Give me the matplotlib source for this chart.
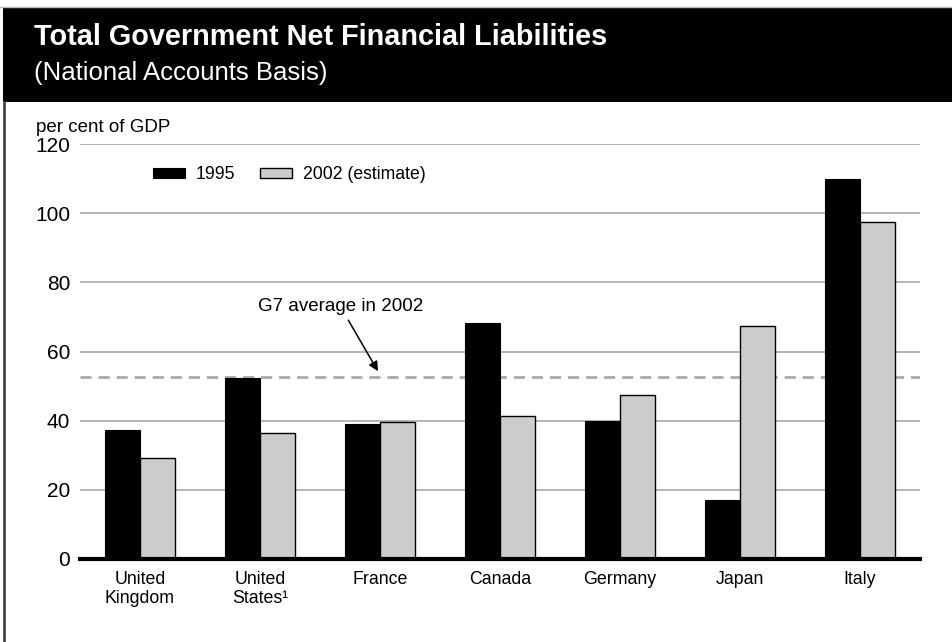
import matplotlib
matplotlib.use("Agg")
import matplotlib.pyplot as plt
import numpy as np
from matplotlib.patches import Rectangle
from matplotlib.lines import Line2D

plt.rcParams['font.family'] = ['Liberation Sans', 'DejaVu Sans']

countries = ["United\nKingdom", "United\nStates\u00b9", "France", "Canada", "Germany", "Japan", "Italy"]
vals_1995 = [37.2, 52.2, 39.1, 68.2, 39.9, 17.2, 110.0]
vals_2002 = [29.3, 36.4, 39.6, 41.3, 47.3, 67.4, 97.5]
series_labels = ["1995", "2002 (estimate)"]
g7_avg_2002 = 52.5
yticks = [0, 20, 40, 60, 80, 100, 120]

W, H = 952, 642
fig = plt.figure(figsize=(W / 100, H / 100), dpi=100)
fig.patch.set_facecolor("white")

# header band
fig.add_artist(Rectangle((3 / W, 1 - 102 / H), (W - 3) / W, 94 / H,
                         transform=fig.transFigure, facecolor="black",
                         edgecolor="none", zorder=0))
fig.add_artist(Line2D([0, 1], [1 - 7 / H, 1 - 7 / H], transform=fig.transFigure,
                      color="#bbbbbb", lw=1))
# left border line
fig.add_artist(Line2D([4 / W, 4 / W], [0, 1 - 102 / H], transform=fig.transFigure,
                      color="#444444", lw=2))

fig.text(34 / W, 1 - 45 / H, "Total Government Net Financial Liabilities",
         color="white", fontsize=20.8, fontweight="bold", va="baseline", ha="left")
fig.text(34 / W, 1 - 80 / H, "(National Accounts Basis)",
         color="white", fontsize=18.5, va="baseline", ha="left")

ax = fig.add_axes([80 / W, 1 - 559 / H, 840 / W, 415 / H])
x = np.arange(len(countries))
bw = 0.29
ax.bar(x - bw / 2, vals_1995, width=bw, color="black", edgecolor="black",
       linewidth=0.8, label=series_labels[0], zorder=3)
ax.bar(x + bw / 2, vals_2002, width=bw, color="#cccccc", edgecolor="black",
       linewidth=1.0, label=series_labels[1], zorder=3)

ax.set_xlim(-0.5, len(countries) - 0.5)
ax.set_ylim(0, 120)
ax.set_yticks(yticks)
ax.set_yticklabels([str(t) for t in yticks])
ax.yaxis.grid(True, color="#b0b0b0", lw=1.3, zorder=1)
ax.set_axisbelow(True)
for s in ["top", "right", "left"]:
    ax.spines[s].set_visible(False)
ax.spines["bottom"].set_linewidth(3)
ax.spines["bottom"].set_zorder(5)
ax.tick_params(axis="y", length=0, pad=7, labelsize=15)
ax.tick_params(axis="x", length=0, pad=9, labelsize=12.8)
ax.set_xticks(x)
ax.set_xticklabels(countries, linespacing=1.15)

ax.axhline(g7_avg_2002, color="#aaaaaa", lw=2, ls=(0, (4, 2.5)), zorder=2)
ax.annotate("G7 average in 2002", xy=(1.983, 54.3), xytext=(1.67, 73),
            fontsize=13.5, ha="center", va="center",
            arrowprops=dict(arrowstyle="-|>", color="black", lw=1.1,
                            mutation_scale=14, shrinkA=2, shrinkB=0))

fig.text(36 / W, 1 - 127 / H, "per cent of GDP", fontsize=13.5, ha="left", va="center")

leg = ax.legend(loc="upper left", bbox_to_anchor=(66 / 840, 1 - 15 / 415),
                ncol=2, frameon=False, fontsize=12.7, handlelength=1.8,
                handleheight=0.55, columnspacing=1.45, handletextpad=0.6,
                borderaxespad=0)

fig.savefig("out.png", dpi=100, facecolor="white")
